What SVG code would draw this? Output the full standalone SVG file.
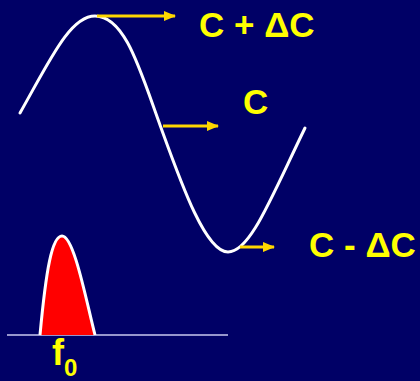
<svg xmlns="http://www.w3.org/2000/svg" width="420" height="381" viewBox="0 0 420 381">
<defs>
<style>
.lbl{font-family:"Liberation Sans",Arial,sans-serif;font-weight:bold;fill:#FFFF00;}
.arr{stroke:#FFD700;stroke-width:3;fill:none;marker-end:url(#ah);}
.wave{stroke:#FFFFFF;stroke-width:3;fill:none;stroke-linecap:round;}
</style>
<marker id="ah" markerWidth="12" markerHeight="10" refX="11" refY="5" orient="auto" markerUnits="userSpaceOnUse">
<path d="M0,0 L12,5 L0,10 Z" fill="#FFD700"/>
</marker>
</defs>
<rect width="420" height="381" fill="#000066"/>
<g id="wave">
<path class="wave" d="M20,113 C50,60 70,16 95,16 C125,16 140,70 160,125 S205,252 228,252 C250,252 270,200 305,128"/>
</g>
<g id="connectors">
<line class="arr" x1="97" y1="16" x2="175" y2="16"/>
<line class="arr" x1="163" y1="126" x2="218" y2="126"/>
<line class="arr" x1="240" y1="247" x2="274" y2="247"/>
</g>
<g id="label-top"><text class="lbl" x="199" y="37" font-size="35">C + ΔC</text></g>
<g id="label-mid"><text class="lbl" x="243" y="114" font-size="35">C</text></g>
<g id="label-bot"><text class="lbl" x="309" y="257" font-size="35">C - ΔC</text></g>
<g id="spectrum">
<line x1="7" y1="335" x2="228" y2="335" stroke="#C8C8F0" stroke-width="1.5"/>
<path d="M40,335 C46,270 52,236 62,236 C74,236 86,300 95,335 Z" fill="#FF0000"/>
<path d="M40,335 C46,270 52,236 62,236 C74,236 86,300 95,335" fill="none" stroke="#FFFFFF" stroke-width="3"/>
</g>
<g id="label-f0"><text class="lbl" x="52" y="365" font-size="36">f<tspan font-size="24" dy="11">0</tspan></text></g>
</svg>
